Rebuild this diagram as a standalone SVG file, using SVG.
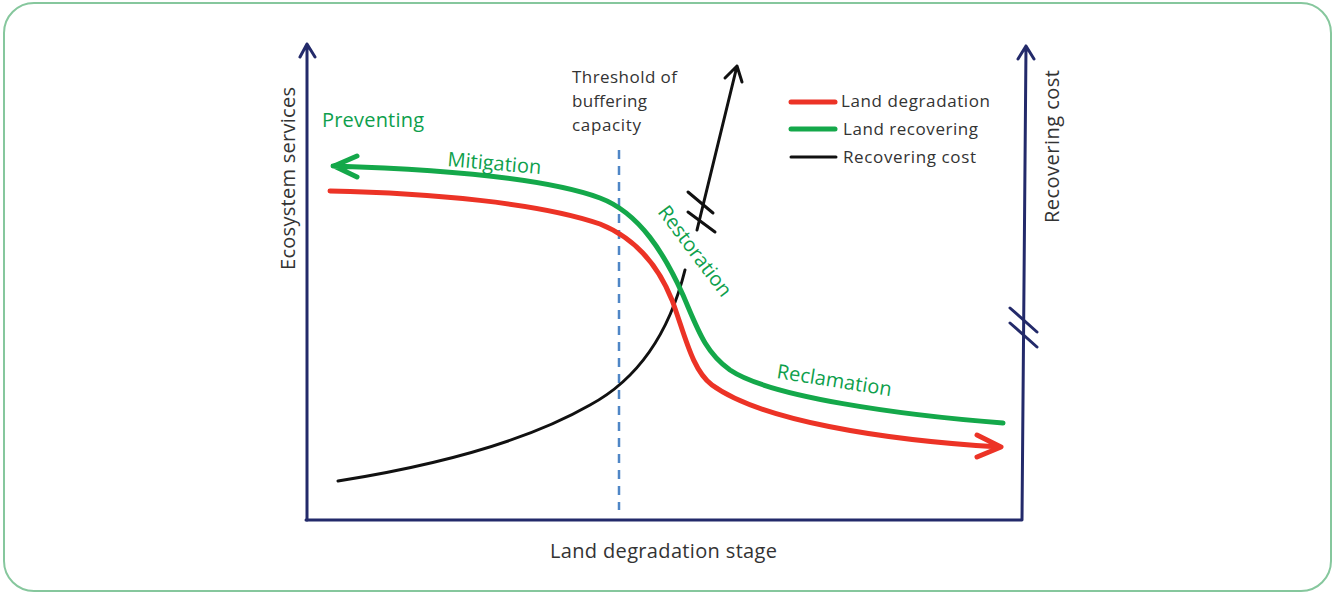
<svg xmlns="http://www.w3.org/2000/svg" width="1335" height="595" viewBox="0 0 1335 595">
<defs>
<style>
.axis{fill:none;stroke:#232a6a;stroke-width:3;stroke-linecap:round;stroke-linejoin:round}
.red{fill:none;stroke:#ec3326;stroke-width:5;stroke-linecap:round;stroke-linejoin:round}
.green{fill:none;stroke:#14a84a;stroke-width:5;stroke-linecap:round;stroke-linejoin:round}
.black{fill:none;stroke:#111;stroke-width:3;stroke-linecap:round;stroke-linejoin:round}
.t{font-family:"Open Sans","Liberation Sans",sans-serif;fill:#333}
.g{font-family:"Open Sans","Liberation Sans",sans-serif;fill:#0e9f4c}
</style>
</defs>
<rect x="4" y="3" width="1327" height="588" rx="30" ry="30" fill="#fff" stroke="#86c79d" stroke-width="2"/>
<g id="axes">
<path class="axis" d="M307 520 L307 44 M300 57 L307 44 L315 57"/>
<path class="axis" d="M306 520 L1022 520 L1026 46 M1018 59 L1026 46 L1034 59"/>
<path class="axis" d="M1010 308 L1037 332 M1010 323 L1037 347" stroke-width="2.5"/>
</g>
<g id="threshold">
<line x1="619" y1="150" x2="619" y2="510" stroke="#4f86c6" stroke-width="2.5" stroke-dasharray="9 7"/>
</g>
<g id="connectors">
<path id="cost-curve" class="black" d="M338 481 C420 468 520 445 590 405 C640 378 670 330 685 270"/>
<path id="cost-arrow" class="black" d="M697 230 L737 66 M725 78 L737 66 L742 82"/>
<path class="black" d="M688 192 L713 213 M688 212 L715 232" stroke-width="2.5"/>
<path id="degradation" class="red" d="M330 191 C430 193 540 203 600 224 C640 240 660 270 672 300 C685 335 692 370 712 385 C760 420 880 440 1000 447 M977 435 L1001 447 L977 457"/>
<path id="recovering" class="green" d="M333 166 C430 169 540 176 600 198 C640 213 665 255 683 295 C698 330 705 352 730 370 C770 397 900 415 1003 423 M357 156 L334 166 L357 177"/>
</g>
<g id="legend">
<line x1="791" y1="102" x2="835" y2="102" class="red" stroke-width="4"/>
<line x1="791" y1="129" x2="835" y2="129" class="green" stroke-width="4"/>
<line x1="791" y1="157" x2="836" y2="157" class="black"/>
<text class="t" x="841" y="107" font-size="17" textLength="149">Land degradation</text>
<text class="t" x="843" y="135" font-size="17" textLength="135">Land recovering</text>
<text class="t" x="843" y="163" font-size="17" textLength="133">Recovering cost</text>
</g>
<g id="labels">
<text class="t" x="572" y="83" font-size="17" textLength="105">Threshold of</text>
<text class="t" x="572" y="107" font-size="17" textLength="75">buffering</text>
<text class="t" x="572" y="131" font-size="17" textLength="69">capacity</text>
<text class="t" x="-270" y="295" font-size="20" textLength="183" transform="rotate(-90)">Ecosystem services</text>
<text class="t" x="-223" y="1059" font-size="20" textLength="153" transform="rotate(-90)">Recovering cost</text>
<text class="t" x="550" y="558" font-size="20" textLength="227">Land degradation stage</text>
<text class="g" x="322" y="127" font-size="20" textLength="102">Preventing</text>
<text class="g" x="0" y="0" font-size="20" textLength="94" transform="translate(447 166) rotate(5)">Mitigation</text>
<text class="g" x="0" y="0" font-size="20" transform="translate(657 212) rotate(53)">Restoration</text>
<text class="g" x="0" y="0" font-size="20" textLength="116" transform="translate(776 378) rotate(9)">Reclamation</text>
</g>
</svg>
